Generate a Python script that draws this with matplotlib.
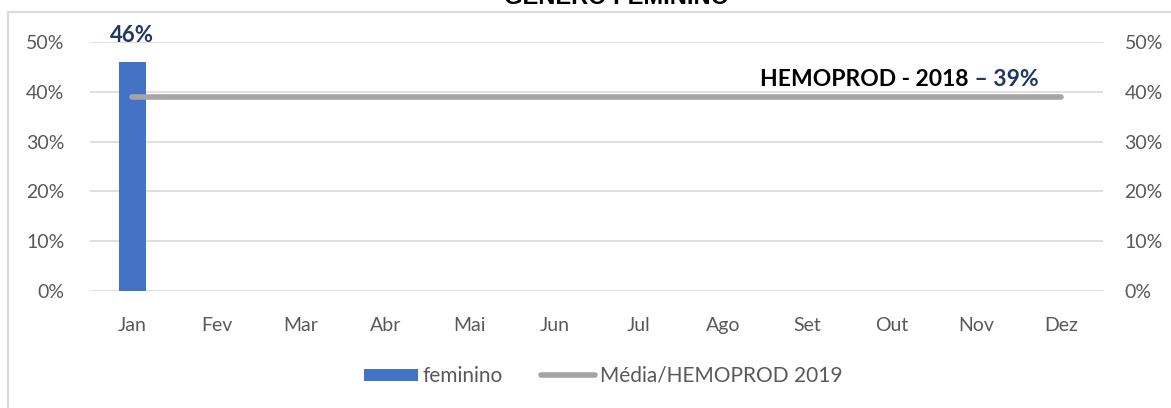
import numpy as np
import matplotlib.pyplot as plt
from matplotlib.patches import Rectangle

meses = ['Jan', 'Fev', 'Mar', 'Abr', 'Mai', 'Jun', 'Jul', 'Ago', 'Set', 'Out', 'Nov', 'Dez']
feminino = [46, np.nan, np.nan, np.nan, np.nan, np.nan, np.nan, np.nan, np.nan, np.nan, np.nan, np.nan]
media = [39, 39, 39, 39, 39, 39, 39, 39, 39, 39, 39, 39]
yticks = [0, 10, 20, 30, 40, 50]

plt.rcParams['font.family'] = ['Lato', 'DejaVu Sans']

fig = plt.figure(figsize=(11.71, 4.08), dpi=100)
# moldura do gráfico
fig.patches.append(Rectangle((8 / 1171, -0.1), 1.2, 1 - 12 / 408 + 0.1, transform=fig.transFigure,
                             fill=False, edgecolor='#D9D9D9', linewidth=1.5))
fig.text(617 / 1171, 1 - 4 / 408, 'GÊNERO FEMININO', ha='center', va='baseline',
         fontsize=17, fontweight='bold', family='Liberation Sans')

ax = fig.add_axes([90 / 1171, 1 - 291 / 408, 1013 / 1171, 249 / 408])
x = np.arange(len(meses))
barras = ax.bar(x, feminino, width=0.32, color='#4472C4', zorder=3, label='feminino')
linha, = ax.plot(x, media, color='#A5A5A5', linewidth=4, solid_capstyle='round', zorder=4,
                 label='Média/HEMOPROD 2019')

ax.text(0, 46 + 3.2, '46%', ha='center', va='bottom', fontsize=16, fontweight='bold', color='#203864')
t1 = ax.text(7.44, 40.4, 'HEMOPROD - 2018', ha='left', va='bottom', fontsize=16.5, fontweight='bold', color='black')
ax.annotate(' – 39%', xy=(1, 0), xycoords=t1, ha='left', va='bottom', fontsize=16.5,
            fontweight='bold', color='#203864')

ax.set_xlim(-0.5, 11.5)
ax.set_ylim(0, 50)
ax.set_xticks(x)
ax.set_xticklabels(meses)
ax.set_yticks(yticks)
ax.set_yticklabels([f'{v}%' for v in yticks])
ax.tick_params(axis='both', length=0, labelsize=14, colors='#595959')
ax.tick_params(axis='y', pad=18.5)
ax.tick_params(axis='x', pad=18.5)
ax.grid(axis='y', color='#D9D9D9', linewidth=1.2, zorder=0)
for s in ax.spines.values():
    s.set_visible(False)

ax2 = ax.twinx()
ax2.set_ylim(0, 50)
ax2.set_yticks(yticks)
ax2.set_yticklabels([f'{v}%' for v in yticks])
ax2.tick_params(axis='y', length=0, labelsize=14, colors='#595959', pad=15.5)
for s in ax2.spines.values():
    s.set_visible(False)

leg = ax.legend([barras, linha], ['feminino', 'Média/HEMOPROD 2019'], loc='center',
                bbox_to_anchor=(603 / 1171, 1 - 376 / 408), bbox_transform=fig.transFigure,
                ncol=2, frameon=False, fontsize=15, handlelength=2.6, handleheight=0.5,
                handletextpad=0.25, columnspacing=1.8)
for t in leg.get_texts():
    t.set_color('#595959')

fig.savefig('out.png', dpi=100)
